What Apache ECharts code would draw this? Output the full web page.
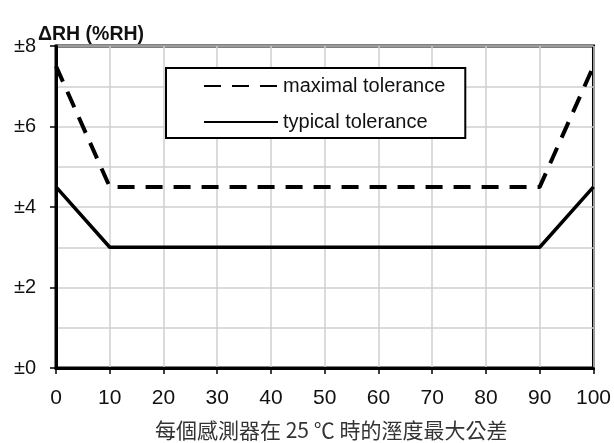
<!DOCTYPE html>
<html><head><meta charset="utf-8">
<script src="https://cdn.jsdelivr.net/npm/echarts@6/dist/echarts.min.js"></script>
<style>html,body{margin:0;padding:0;background:#fff}#c{width:614px;height:443px}</style>
</head><body><div id="c"></div>
<script>
const humidity = [0, 10, 90, 100];
const maximalTolerance = [7.5, 4.5, 4.5, 7.5];
const typicalTolerance = [4.5, 3.0, 3.0, 4.5];
const seriesNames = ['maximal tolerance', 'typical tolerance'];
const yTitle = 'ΔRH (%RH)';
const caption = '每個感測器在 25 ℃ 時的溼度最大公差';

const F = '"Liberation Sans Narrow","Liberation Sans",Arial,sans-serif';
const chart = echarts.init(document.getElementById('c'));
chart.setOption({
  animation: false,
  backgroundColor: '#fff',
  grid: {left: 56, right: 17, top: 46, bottom: 75, show: true, borderColor: '#000', borderWidth: 3, backgroundColor: 'transparent'},
  title: [
    {text: yTitle, left: 33, top: 20, textStyle: {fontFamily: F, fontSize: 19.5, fontWeight: 'bold', color: '#111'}},
    {text: caption, left: 150, top: 415, textStyle: {fontFamily: '"Noto Sans CJK TC",sans-serif', fontSize: 21, fontWeight: 'normal', color: '#333'}}
  ],
  legend: {
    left: 166, top: 68, orient: 'vertical', align: 'left',
    padding: [8, 20, 6, 37], itemGap: 16,
    borderColor: '#000', borderWidth: 2, backgroundColor: '#fff',
    itemWidth: 74, itemHeight: 14,
    itemStyle: {opacity: 0},
    textStyle: {fontFamily: F, fontSize: 20, color: '#111'},
    data: seriesNames
  },
  xAxis: {
    type: 'value', min: 0, max: 100, interval: 10,
    axisLine: {lineStyle: {color: '#000', width: 3}},
    axisTick: {show: true, length: 6, lineStyle: {color: '#000', width: 1.5}},
    axisLabel: {fontFamily: F, fontSize: 21, color: '#111', margin: 20},
    splitLine: {show: true, lineStyle: {color: '#cfcfcf', width: 1.5}}
  },
  yAxis: {
    type: 'value', min: 0, max: 8, interval: 2,
    axisLine: {show: true, lineStyle: {color: '#000', width: 3}},
    axisTick: {show: true, length: 6, lineStyle: {color: '#000', width: 1.5}},
    minorTick: {show: false, splitNumber: 2},
    minorSplitLine: {show: true, lineStyle: {color: '#cfcfcf', width: 1.5}},
    axisLabel: {fontFamily: F, fontSize: 20, color: '#111', margin: 20,
      formatter: function (v) { return '±' + v; }},
    splitLine: {show: true, lineStyle: {color: '#cfcfcf', width: 1.5}}
  },
  series: [
    {name: seriesNames[0], type: 'line', symbol: 'none',
     data: humidity.map((x, i) => [x, maximalTolerance[i]]),
     lineStyle: {color: '#000', width: 4, type: [17, 11]}, itemStyle: {color: '#000'}},
    {name: seriesNames[1], type: 'line', symbol: 'none',
     data: humidity.map((x, i) => [x, typicalTolerance[i]]),
     lineStyle: {color: '#000', width: 3.5, type: 'solid'}, itemStyle: {color: '#000'}}
  ]
});
</script></body></html>
